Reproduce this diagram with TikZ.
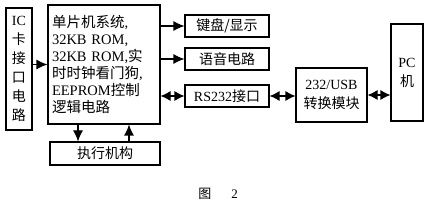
\documentclass[tikz,border=0pt]{standalone}
\usepackage{fontspec}
\setmainfont{Liberation Serif}
\newfontfamily\cjk{Noto Sans CJK SC}
\usetikzlibrary{arrows.meta}

\begin{document}
\begin{tikzpicture}[x=1pt,y=-1pt,
    box/.style={draw,line width=1.1pt,inner sep=2pt,font=\fontsize{14}{19}\selectfont,align=center},
    arr/.style={line width=1.1pt,-{Latex[length=11pt,width=10pt]}},
    darr/.style={line width=1.1pt,{Latex[length=10pt,width=10pt]}-{Latex[length=10pt,width=10pt]}}]
    \useasboundingbox (0,0) rectangle (433,208);
    % left side
    \node[box,minimum width=26pt,minimum height=122pt] (ic) at (19,69)
        {IC\\{\cjk 卡}\\{\cjk 接}\\{\cjk 口}\\{\cjk 电}\\{\cjk 路}};
    \node[box,minimum width=112pt,minimum height=119pt,text width=104pt,align=left,
        font=\fontsize{14.5}{17}\selectfont] (main) at (104,64.5)
        {{\cjk 单片机系统}, \\ 32KB ROM, \\ 32KB ROM,{\cjk 实}\\ {\cjk 时时钟看门狗}, \\
         EEPROM{\cjk 控制}\\ {\cjk 逻辑电路}};
    \node[box,minimum width=110pt,minimum height=23pt] (exe) at (105,153.5) {\cjk 执行机构};
    % outputs
    \node[box,minimum width=84pt,minimum height=22pt] (kbd) at (227,26) {\cjk 键盘/显示};
    \node[box,minimum width=84pt,minimum height=22pt] (voice) at (227,59) {\cjk 语音电路};
    \node[box,minimum width=84pt,minimum height=22pt] (rs) at (227,96) {RS232{\cjk 接口}};
    \node[box,minimum width=71pt,minimum height=54pt] (usb) at (331.5,95) {232/USB\\{\cjk 转换模块}};
    \node[box,minimum width=32pt,minimum height=97pt] (pc) at (407,72.5) {PC\\{\cjk 机}};
    % connectors
    \draw[arr] (ic.east |- main.west) -- (main.west);
    \draw[arr] (main.east |- kbd) -- (kbd.west);
    \draw[arr] (main.east |- voice) -- (voice.west);
    \draw[darr] (main.east |- rs) -- (rs.west);
    \draw[darr] (rs.east) -- (usb.west |- rs);
    \draw[darr] (usb.east) -- (pc.west |- usb);
    \draw[arr] ([xshift=-26pt]main.south) -- ([xshift=-26pt]main.south |- exe.north);
    \draw[arr] ([xshift=25pt]main.south |- exe.north) -- ([xshift=25pt]main.south);
    \node[font=\fontsize{13}{15}\selectfont] (cap) at (218,194) {{\cjk 图}\hspace{20pt}2};
\end{tikzpicture}
\end{document}
